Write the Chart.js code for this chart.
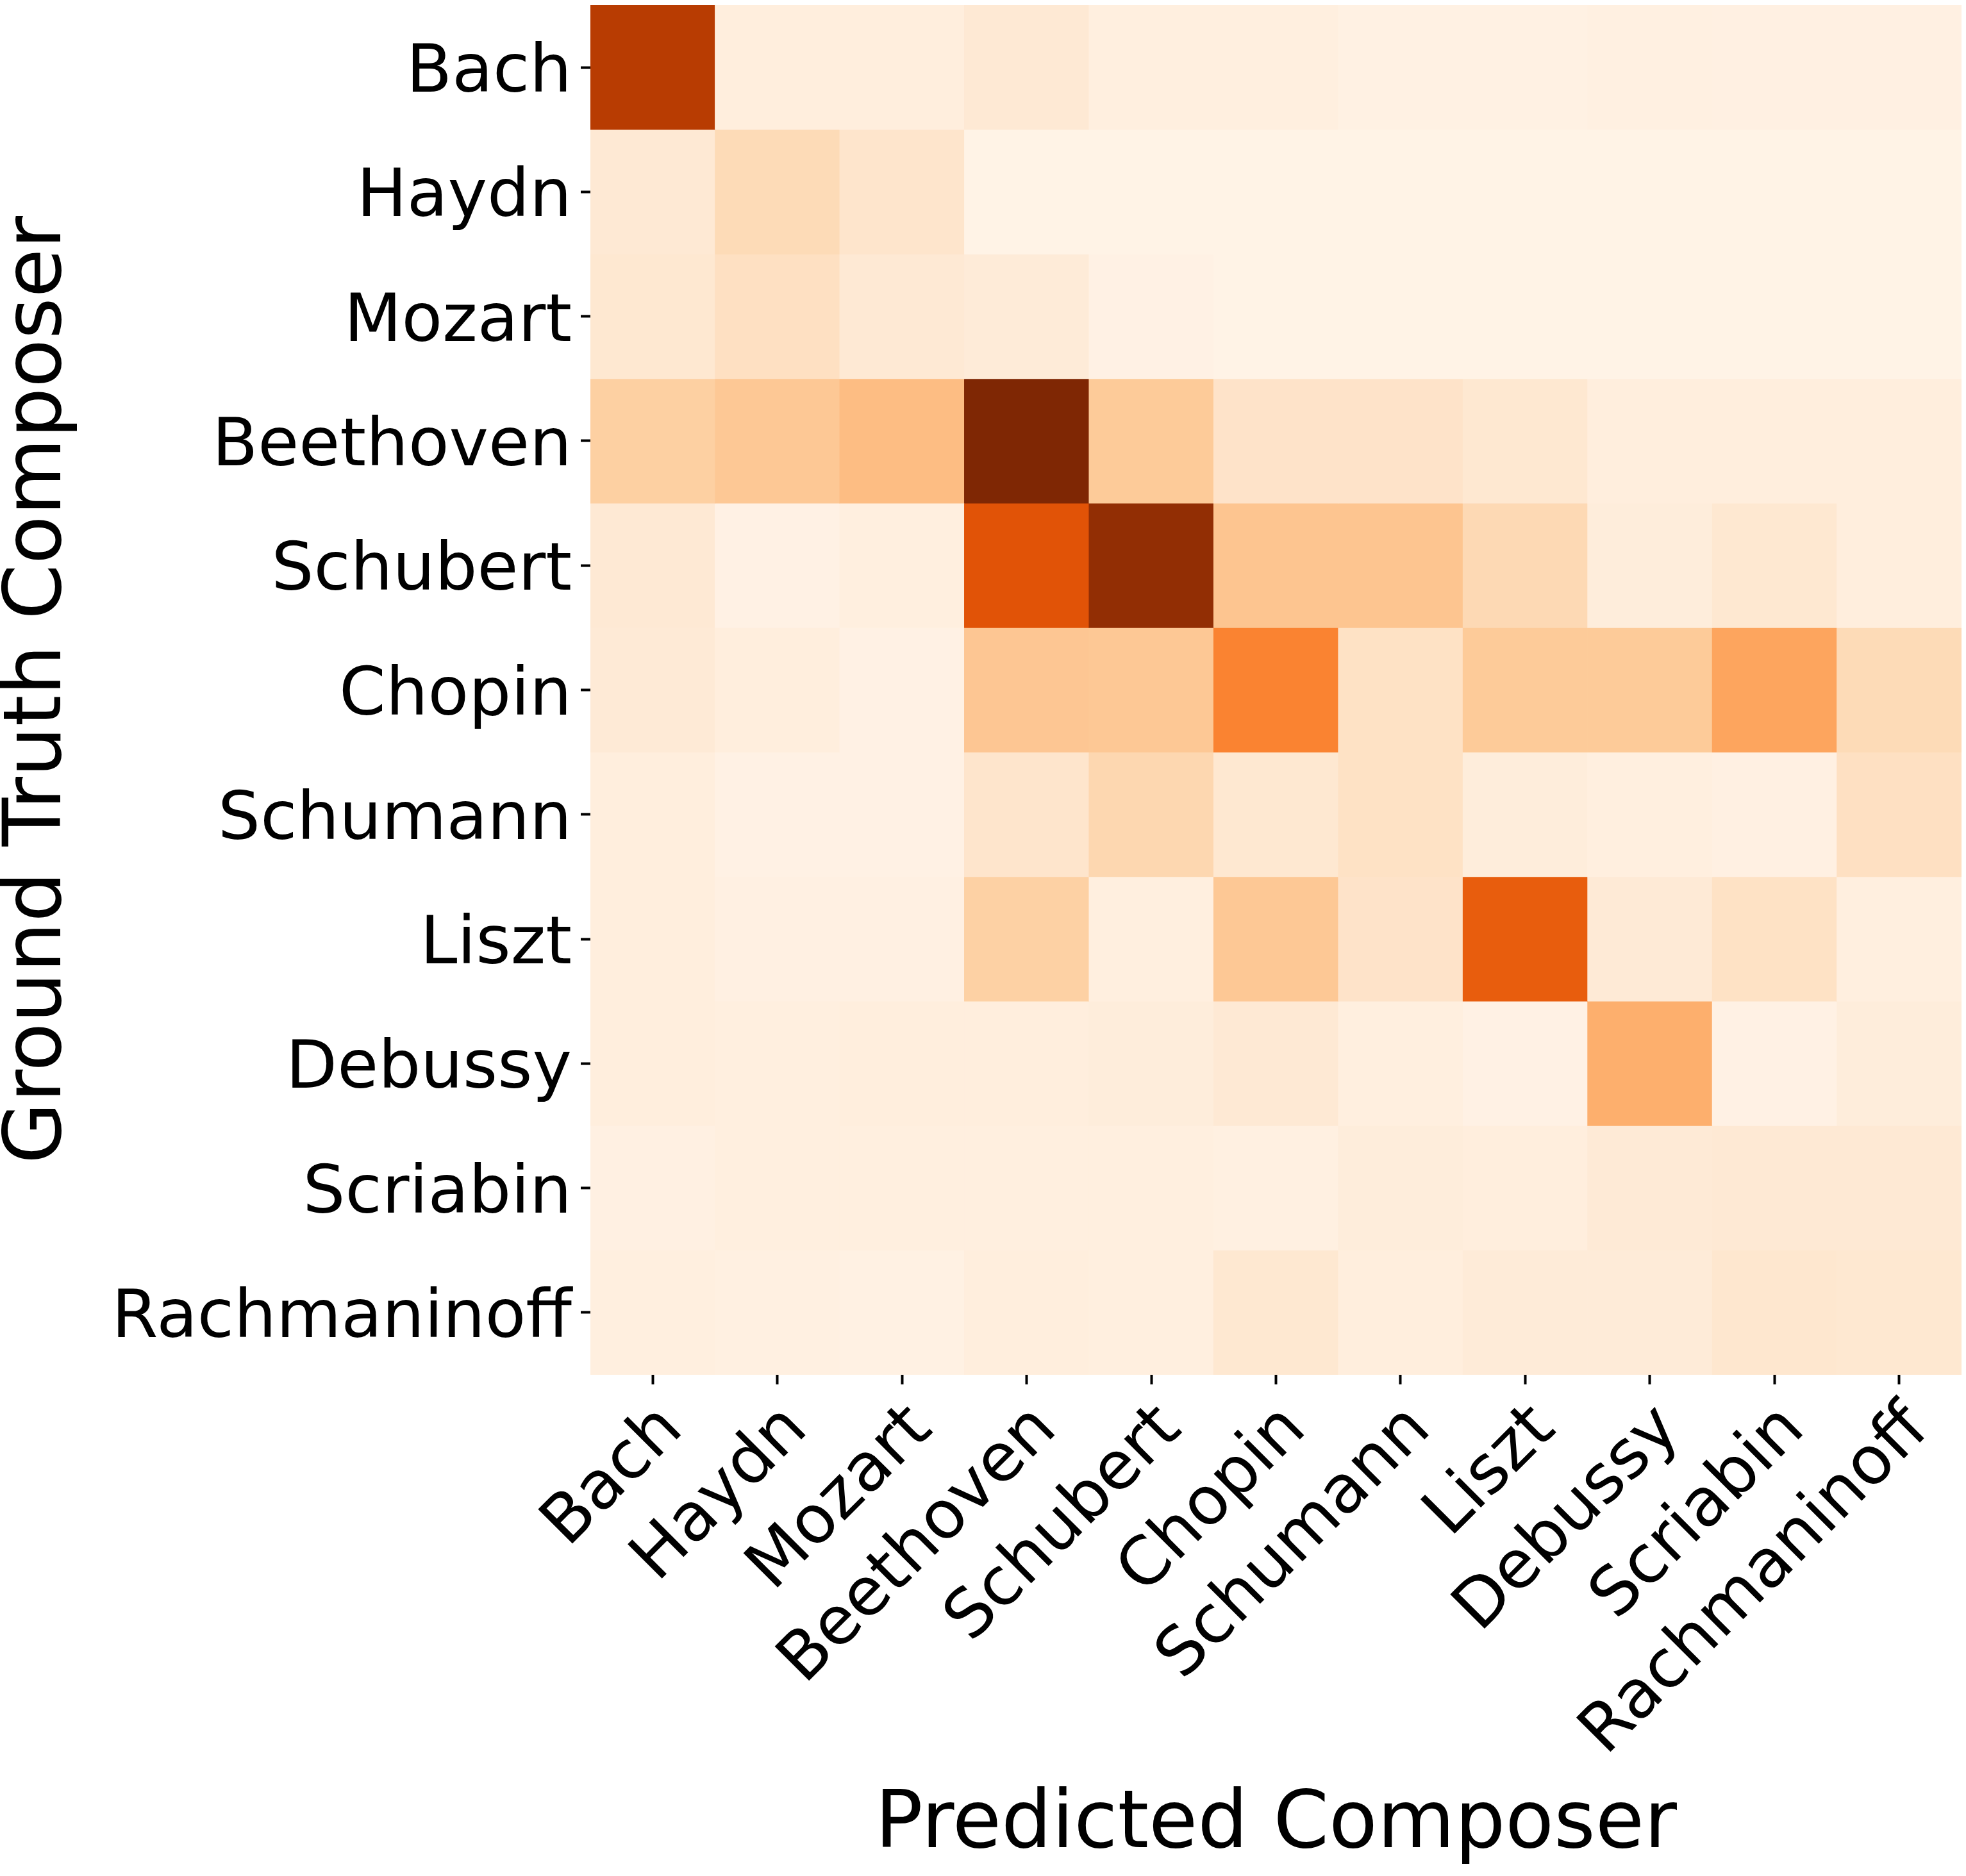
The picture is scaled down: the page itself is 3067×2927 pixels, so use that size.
<!DOCTYPE html>
<html>
<head>
<meta charset="utf-8">
<script src="https://cdn.jsdelivr.net/npm/chart.js@4.4.0/dist/chart.umd.min.js"></script>
<style>html,body{margin:0;padding:0;background:#fff}</style>
</head>
<body>
<canvas id="heatmap" width="3067" height="2927"></canvas>
<script>
const predicted = ["Bach", "Haydn", "Mozart", "Beethoven", "Schubert", "Chopin", "Schumann", "Liszt", "Debussy", "Scriabin", "Rachmaninoff"];
const groundTruth = ["Bach", "Haydn", "Mozart", "Beethoven", "Schubert", "Chopin", "Schumann", "Liszt", "Debussy", "Scriabin", "Rachmaninoff"];

// one row per ground truth composer, columns follow `predicted`
const rowBach         = [0.83, 0.06, 0.06, 0.10, 0.05, 0.05, 0.035, 0.035, 0.045, 0.04, 0.04];
const rowHaydn        = [0.10, 0.19, 0.13, 0.02, 0.02, 0.02, 0.02, 0.02, 0.02, 0.02, 0.02];
const rowMozart       = [0.11, 0.16, 0.10, 0.08, 0.03, 0.02, 0.02, 0.02, 0.02, 0.02, 0.02];
const rowBeethoven    = [0.25, 0.28, 0.32, 1.00, 0.27, 0.14, 0.14, 0.11, 0.06, 0.06, 0.06];
const rowSchubert     = [0.10, 0.03, 0.05, 0.71, 0.94, 0.29, 0.29, 0.20, 0.07, 0.11, 0.06];
const rowChopin       = [0.09, 0.06, 0.03, 0.285, 0.28, 0.535, 0.15, 0.27, 0.27, 0.41, 0.19];
const rowSchumann     = [0.06, 0.03, 0.03, 0.13, 0.21, 0.11, 0.15, 0.07, 0.05, 0.04, 0.16];
const rowLiszt        = [0.06, 0.04, 0.04, 0.245, 0.05, 0.28, 0.14, 0.67, 0.09, 0.15, 0.05];
const rowDebussy      = [0.06, 0.05, 0.06, 0.06, 0.07, 0.10, 0.05, 0.03, 0.37, 0.03, 0.07];
const rowScriabin     = [0.04, 0.05, 0.05, 0.05, 0.05, 0.045, 0.07, 0.06, 0.09, 0.10, 0.10];
const rowRachmaninoff = [0.05, 0.045, 0.035, 0.06, 0.05, 0.11, 0.06, 0.08, 0.08, 0.12, 0.11];

const matrix = [rowBach, rowHaydn, rowMozart, rowBeethoven, rowSchubert, rowChopin,
  rowSchumann, rowLiszt, rowDebussy, rowScriabin, rowRachmaninoff];

// matplotlib "Oranges"
const oranges = ["#fff5eb", "#fee6ce", "#fdd0a2", "#fdae6b", "#fd8d3c", "#f16913", "#d94801", "#a63603", "#7f2704"];

function hexToRgb(h) {
  return [parseInt(h.slice(1, 3), 16), parseInt(h.slice(3, 5), 16), parseInt(h.slice(5, 7), 16)];
}

function orangeAt(t) {
  t = Math.max(0, Math.min(1, t));
  const pos = t * (oranges.length - 1);
  const k = Math.min(Math.floor(pos), oranges.length - 2);
  const f = pos - k;
  const a = hexToRgb(oranges[k]), b = hexToRgb(oranges[k + 1]);
  const c = a.map((v, i) => Math.round(v + (b[i] - v) * f));
  return `rgb(${c[0]},${c[1]},${c[2]})`;
}

const vmax = Math.max(...matrix.flat());

const datasets = matrix.map((row, i) => ({
  label: groundTruth[i],
  data: row.map(() => [i, i + 1]),
  backgroundColor: row.map(v => orangeAt(v / vmax)),
  borderWidth: 0,
  grouped: false,
  barPercentage: 1,
  categoryPercentage: 1
}));

const family = "'DejaVu Sans', sans-serif";
const tickGrid = {
  display: true,
  drawOnChartArea: false,
  offset: false,
  drawTicks: true,
  tickLength: 15,
  tickWidth: 4,
  tickColor: "#000"
};

new Chart(document.getElementById("heatmap").getContext("2d"), {
  type: "bar",
  data: { labels: predicted, datasets: datasets },
  options: {
    responsive: false,
    animation: false,
    devicePixelRatio: 1,
    layout: { padding: { top: 8, right: 7, left: 0, bottom: 0 } },
    plugins: { legend: { display: false }, tooltip: { enabled: false } },
    scales: {
      x: {
        grid: tickGrid,
        border: { display: false },
        ticks: {
          autoSkip: false,
          minRotation: 45,
          maxRotation: 45,
          padding: 17,
          labelOffset: 31,
          color: "#000",
          font: { family: family, size: 104, lineHeight: 1 }
        },
        title: {
          display: true,
          text: "Predicted Composer",
          color: "#000",
          font: { family: family, size: 124, lineHeight: 1 },
          padding: { top: 0, bottom: 15 }
        },
        afterFit: scale => {
          scale.height = 782;
          scale.paddingLeft = 0;
          scale.paddingRight = 0;
        }
      },
      y: {
        type: "linear",
        min: 0,
        max: 11,
        reverse: true,
        afterBuildTicks: scale => {
          scale.ticks = groundTruth.map((_, i) => ({ value: i + 0.5 }));
        },
        grid: tickGrid,
        border: { display: false },
        ticks: {
          padding: 14,
          labelOffset: 11,
          color: "#000",
          font: { family: family, size: 104, lineHeight: 1 },
          callback: (value, index) => groundTruth[index]
        },
        title: {
          display: true,
          text: "Ground Truth Composer",
          color: "#000",
          font: { family: family, size: 124, lineHeight: 1 },
          padding: { top: 0, bottom: 0 }
        },
        afterFit: scale => {
          scale.width = 921;
          scale.paddingTop = 0;
          scale.paddingBottom = 0;
        }
      }
    }
  }
});
</script>
</body>
</html>
